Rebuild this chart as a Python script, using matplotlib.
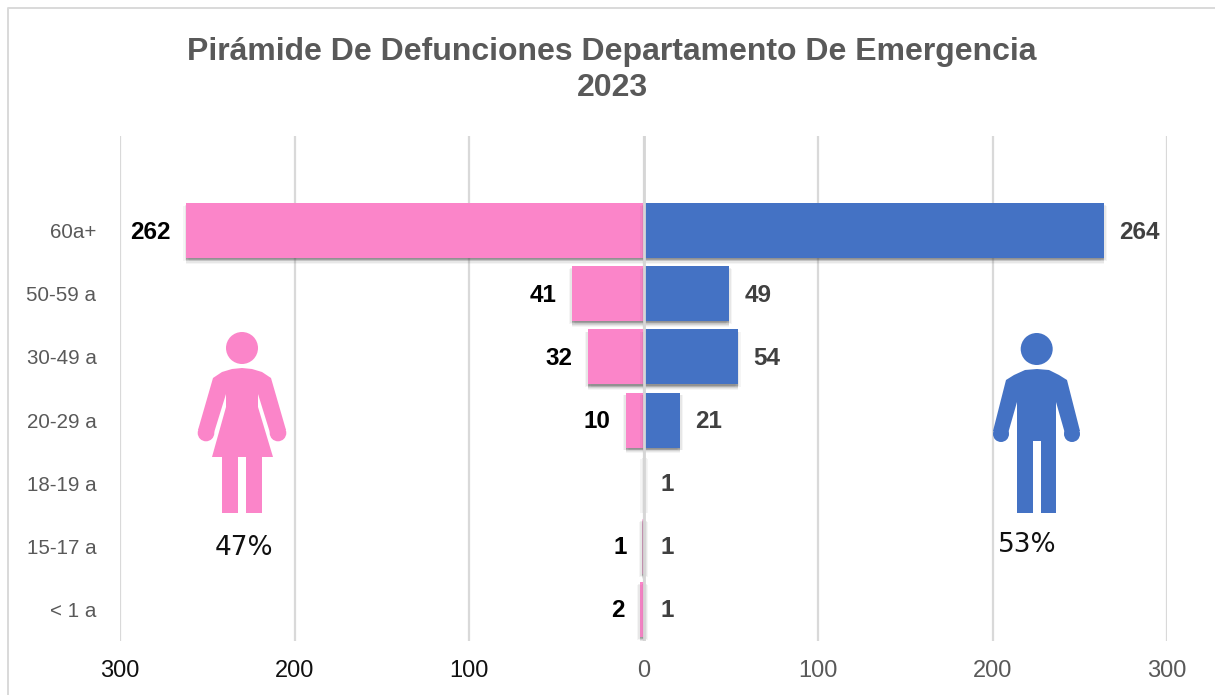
import matplotlib
matplotlib.use("Agg")
import matplotlib.pyplot as plt
from matplotlib.patches import Polygon, Circle, Rectangle
from matplotlib.lines import Line2D
import matplotlib.patheffects as pe

plt.rcParams['font.family'] = ['Liberation Sans', 'DejaVu Sans']

categories = ["< 1 a", "15-17 a", "18-19 a", "20-29 a", "30-49 a", "50-59 a", "60a+"]
mujeres = [2, 1, 0, 10, 32, 41, 262]
hombres = [1, 1, 1, 21, 54, 49, 264]
ticks = [-300, -200, -100, 0, 100, 200, 300]
tick_labels = ["300", "200", "100", "0", "100", "200", "300"]
title = "Pirámide De Defunciones Departamento De Emergencia\n2023"
PINK = "#FB85C9"
BLUE = "#4472C4"
W, H = 1215, 695

fig = plt.figure(figsize=(W/100, H/100), dpi=100, facecolor="white")
fig.add_artist(Line2D([8/W, 8/W, 1.0], [0, 1-8/H, 1-8/H], transform=fig.transFigure,
                      color="#D9D9D9", lw=1.4))

x0, x1 = 120, 1167
top, bot = 136, 641
ax = fig.add_axes([x0/W, 1-bot/H, (x1-x0)/W, (bot-top)/H])
ax.set_xlim(-300, 300)
ax.set_ylim(-0.5, 7.5)
for s in ax.spines.values():
    s.set_visible(False)
ax.patch.set_alpha(0)
ax.set_axisbelow(True)
ax.xaxis.grid(True, color="#D9D9D9", lw=1.6)
ax.yaxis.grid(False)

y = list(range(len(categories)))
shadow = [pe.SimplePatchShadow(offset=o, shadow_rgbFace="#444444", alpha=a)
          for o, a in [((0, -4.0), 0.05), ((-2.2, -2.0), 0.05), ((2.2, -2.0), 0.05), ((0, -3.2), 0.08),
                       ((-1.2, -1.5), 0.08), ((1.2, -1.5), 0.08), ((0, -2.4), 0.12), ((0, -1.6), 0.15),
                       ((0, -0.8), 0.15)]] + [pe.Normal()]
h = 0.87
b1 = ax.barh(y, [-v for v in mujeres], height=h, color=PINK, zorder=2)
b2 = ax.barh(y, hombres, height=h, color=BLUE, zorder=2)
for b in list(b1) + list(b2):
    if b.get_width() != 0:
        b.set_path_effects(shadow)
for i in (0, 1, 2):
    b2[i].set_alpha(0.35)
b1[1].set_alpha(0.45)
ax.axvline(0, color="#D6D6D6", lw=2.0, zorder=3)

ax.set_xticks(ticks)
ax.set_xticklabels(tick_labels, fontsize=17)
for lab, t in zip(ax.get_xticklabels(), ticks):
    lab.set_color("#111111" if t < 0 else "#595959")
ax.set_yticks(y)
ax.set_yticklabels(categories, fontsize=14.8, color="#595959")
ax.tick_params(axis="both", length=0)
ax.tick_params(axis="x", pad=14)
ax.tick_params(axis="y", pad=17)

for i, v in enumerate(mujeres):
    if v > 0:
        ax.annotate(str(v), (-v, i), xytext=(-11, -1), textcoords="offset points", ha="right",
                    va="center", fontsize=17.5, fontweight="bold", color="#000000")
for i, v in enumerate(hombres):
    ax.annotate(str(v), (v, i), xytext=(11, -1), textcoords="offset points", ha="left",
                va="center", fontsize=17.5, fontweight="bold", color="#404040")

fig.text(612/W, 1-70/H, title, ha="center", va="center", fontsize=23, fontweight="bold",
         color="#595959", linespacing=1.25)

ov = fig.add_axes([0, 0, 1, 1], facecolor="none")
ov.set_xlim(0, W); ov.set_ylim(H, 0); ov.axis("off")

# woman pictogram
ov.add_patch(Circle((242, 348), 16, fc=PINK, ec="none"))
ov.add_patch(Polygon([(213, 378), (222, 372), (232, 369), (242, 368), (252, 369), (262, 372), (271, 378),
                      (286, 430), (271, 436), (258, 394), (258, 407), (273, 457), (212, 457), (226, 407),
                      (226, 394), (213, 436), (198, 430)], closed=True, fc=PINK, ec="none"))
ov.add_patch(Circle((206, 433), 8.3, fc=PINK, ec="none"))
ov.add_patch(Circle((278, 433), 8.3, fc=PINK, ec="none"))
ov.add_patch(Rectangle((222, 450), 16, 63, fc=PINK, ec="none"))
ov.add_patch(Rectangle((246, 450), 16, 63, fc=PINK, ec="none"))

# man pictogram
ov.add_patch(Circle((1036.7, 349), 16, fc=BLUE, ec="none"))
ov.add_patch(Polygon([(1006, 380), (1014, 375), (1025, 370), (1037, 369), (1049, 370), (1059, 375), (1067, 380),
                      (1080, 431), (1066, 437), (1056, 402), (1056, 513), (1041, 513), (1041, 441), (1033, 441),
                      (1033, 513), (1017, 513), (1017, 402), (1007, 437), (993, 431)],
                     closed=True, fc=BLUE, ec="none"))
ov.add_patch(Circle((1001, 434), 8, fc=BLUE, ec="none"))
ov.add_patch(Circle((1072, 434), 8, fc=BLUE, ec="none"))

fam = ['DejaVu Sans']
ov.text(244, 548, "47%", ha="center", va="center", fontsize=19, color="#111111", family=fam)
ov.text(1027, 545, "53%", ha="center", va="center", fontsize=19, color="#111111", family=fam)

fig.savefig("out.png", dpi=100, facecolor="white")
